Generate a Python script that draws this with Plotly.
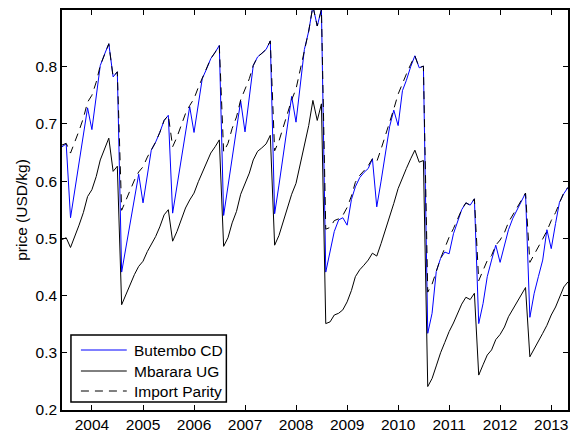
import plotly.graph_objects as go
import pandas as pd

# Monthly dates: Jun 2003 .. May 2013
months = pd.date_range("2003-06-01", "2013-05-01", freq="MS").strftime("%Y-%m-%d").tolist()

butembo_cd = [
    0.660, 0.665, 0.536, 0.585, 0.635, 0.685, 0.728,
    0.690, 0.750, 0.802, 0.822, 0.840, 0.782, 0.791, 0.441, 0.485, 0.527, 0.570, 0.612,
    0.562, 0.610, 0.654, 0.668, 0.685, 0.706, 0.715, 0.544, 0.590, 0.637, 0.683, 0.730,
    0.685, 0.735, 0.779, 0.796, 0.814, 0.825, 0.837, 0.540, 0.590, 0.640, 0.690, 0.740,
    0.686, 0.745, 0.802, 0.817, 0.823, 0.830, 0.845, 0.543, 0.593, 0.643, 0.694, 0.748,
    0.703, 0.768, 0.830, 0.862, 0.906, 0.871, 0.900, 0.441, 0.475, 0.512, 0.532, 0.536,
    0.523, 0.568, 0.590, 0.606, 0.615, 0.622, 0.639, 0.555, 0.600, 0.643, 0.695, 0.724,
    0.697, 0.758, 0.776, 0.800, 0.819, 0.798, 0.801, 0.334, 0.369, 0.442, 0.465, 0.476,
    0.473, 0.508, 0.530, 0.550, 0.562, 0.558, 0.569, 0.351, 0.386, 0.433, 0.462, 0.488,
    0.458, 0.490, 0.515, 0.535, 0.550, 0.564, 0.579, 0.362, 0.404, 0.433, 0.462, 0.515,
    0.482, 0.526, 0.563, 0.578, 0.589,
]

mbarara_ug = [
    0.498, 0.501, 0.484, 0.503, 0.523, 0.545, 0.573,
    0.585, 0.608, 0.637, 0.657, 0.675, 0.617, 0.626, 0.384, 0.402, 0.422, 0.437, 0.451,
    0.460, 0.477, 0.489, 0.503, 0.520, 0.541, 0.550, 0.495, 0.512, 0.533, 0.553, 0.567,
    0.579, 0.599, 0.614, 0.631, 0.649, 0.660, 0.672, 0.486, 0.501, 0.527, 0.547, 0.577,
    0.594, 0.614, 0.637, 0.652, 0.658, 0.665, 0.680, 0.488, 0.505, 0.529, 0.552, 0.577,
    0.596, 0.630, 0.665, 0.697, 0.741, 0.706, 0.735, 0.351, 0.354, 0.366, 0.369, 0.375,
    0.389, 0.409, 0.433, 0.445, 0.453, 0.462, 0.474, 0.469, 0.491, 0.514, 0.535, 0.561,
    0.587, 0.607, 0.622, 0.639, 0.654, 0.633, 0.636, 0.241, 0.255, 0.277, 0.300, 0.318,
    0.337, 0.352, 0.368, 0.385, 0.397, 0.393, 0.404, 0.261, 0.279, 0.296, 0.305, 0.323,
    0.332, 0.345, 0.363, 0.376, 0.389, 0.401, 0.414, 0.293, 0.306, 0.319, 0.334, 0.348,
    0.366, 0.380, 0.398, 0.415, 0.424,
]

import_parity = [
    0.663, 0.666, 0.649, 0.668, 0.688, 0.710, 0.738,
    0.750, 0.773, 0.802, 0.822, 0.840, 0.782, 0.791, 0.549, 0.567, 0.587, 0.602, 0.616,
    0.625, 0.642, 0.654, 0.668, 0.685, 0.706, 0.715, 0.660, 0.677, 0.698, 0.718, 0.732,
    0.744, 0.764, 0.779, 0.796, 0.814, 0.825, 0.837, 0.651, 0.666, 0.692, 0.712, 0.742,
    0.759, 0.779, 0.802, 0.817, 0.823, 0.830, 0.845, 0.653, 0.670, 0.694, 0.717, 0.742,
    0.761, 0.795, 0.830, 0.862, 0.906, 0.871, 0.900, 0.516, 0.519, 0.531, 0.534, 0.540,
    0.554, 0.574, 0.598, 0.610, 0.618, 0.627, 0.639, 0.634, 0.656, 0.679, 0.700, 0.726,
    0.752, 0.772, 0.787, 0.804, 0.819, 0.798, 0.801, 0.406, 0.420, 0.442, 0.465, 0.483,
    0.502, 0.517, 0.533, 0.550, 0.562, 0.558, 0.569, 0.426, 0.444, 0.461, 0.470, 0.488,
    0.497, 0.510, 0.528, 0.541, 0.554, 0.566, 0.579, 0.458, 0.471, 0.484, 0.499, 0.513,
    0.531, 0.545, 0.563, 0.580, 0.589,
]

series_names = ["Butembo CD", "Mbarara UG", "Import Parity"]

year_ticks = ["2004-01-01", "2005-01-01", "2006-01-01", "2007-01-01", "2008-01-01",
              "2009-01-01", "2010-01-01", "2011-01-01", "2012-01-01", "2013-01-01"]
year_labels = ["2004", "2005", "2006", "2007", "2008", "2009", "2010", "2011", "2012", "2013"]
y_ticks = [0.2, 0.3, 0.4, 0.5, 0.6, 0.7, 0.8]
y_labels = ["0.2", "0.3", "0.4", "0.5", "0.6", "0.7", "0.8"]

FONT = "Liberation Sans, Arial, Helvetica, sans-serif"
FS = 15.5
DASH = "8px,6px"
styles = [dict(color="#0000ff", width=1),
          dict(color="#000000", width=1),
          dict(color="#000000", width=1, dash=DASH)]

fig = go.Figure()
for name, vals, st in zip(series_names, [butembo_cd, mbarara_ug, import_parity], styles):
    fig.add_trace(go.Scatter(x=months, y=vals, mode="lines", name=name, line=st,
                             showlegend=False))

axis_common = dict(showline=True, linecolor="black", linewidth=1.5, mirror="ticks",
                   ticks="inside", ticklen=5, tickwidth=1, tickcolor="black",
                   showgrid=False, zeroline=False,
                   tickfont=dict(family=FONT, size=FS, color="black"))

fig.update_xaxes(type="date", range=["2003-06-01", "2013-05-01"],
                 tickvals=year_ticks, ticktext=year_labels, **axis_common)
fig.update_yaxes(range=[0.2, 0.899], tickvals=y_ticks, ticktext=y_labels,
                 title=dict(text="price (USD/kg)", font=dict(family=FONT, size=FS, color="black"),
                            standoff=4),
                 **axis_common)

# Custom MATLAB-style legend box (paper coordinates of the plot area)
shapes = [dict(type="rect", xref="paper", yref="paper", x0=0.0177, x1=0.3248,
               y0=0.02, y1=0.1875, line=dict(color="black", width=1.5),
               fillcolor="white", layer="above")]
legend_y = [0.150, 0.0975, 0.0475]
annotations = []
for name, st, ly in zip(series_names, styles, legend_y):
    shapes.append(dict(type="line", xref="paper", yref="paper", x0=0.0374, x1=0.128,
                       y0=ly, y1=ly, line=st, layer="above"))
    annotations.append(dict(xref="paper", yref="paper", x=0.1378, y=ly, text=name,
                            showarrow=False, xanchor="left", yanchor="middle",
                            font=dict(family=FONT, size=FS, color="black")))

fig.update_layout(
    width=570, height=433,
    margin=dict(l=62, r=0, t=10, b=23),
    paper_bgcolor="white", plot_bgcolor="white",
    font=dict(family=FONT, size=FS, color="black"),
    showlegend=False,
    hovermode=False,
    shapes=shapes, annotations=annotations,
)

# remove the default 8px page margin so the figure sits at the window's top-left
fig.write_html("out.html",
               config={"displayModeBar": False},
               post_script="document.body.style.margin='0';document.body.style.overflow='hidden';")
